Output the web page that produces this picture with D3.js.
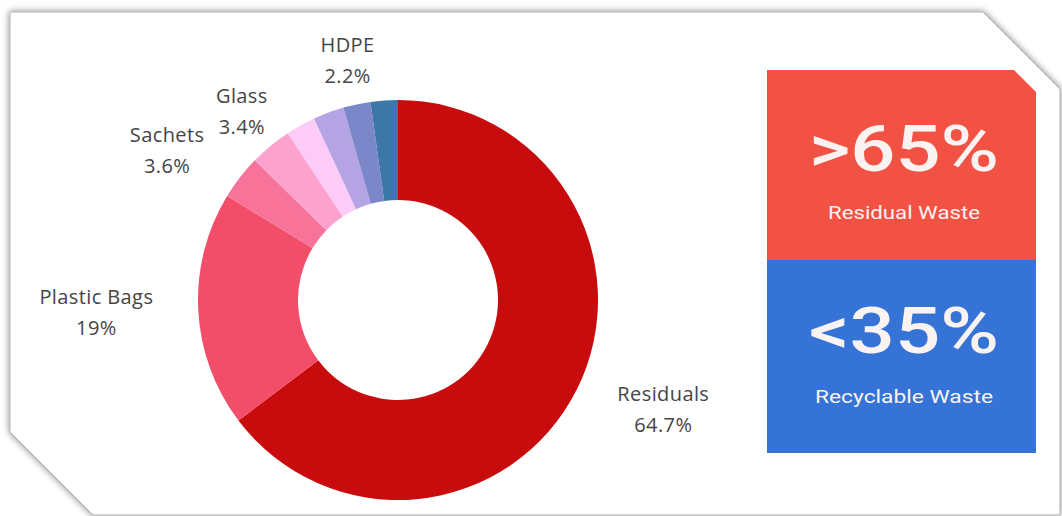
<!DOCTYPE html>
<html>
<head>
<meta charset="utf-8">
<script src="https://cdn.jsdelivr.net/npm/d3@7"></script>
<style>
  html, body { margin: 0; padding: 0; background: #ffffff; }
  svg { display: block; }
</style>
</head>
<body>
<svg id="chart" width="1062" height="516"></svg>
<script>
// ---- data ----
const categories = ["Residuals", "Plastic Bags", "Sachets", "Glass", "Other A", "Other B", "HDPE", "Other C"];
const values = [64.7, 19, 3.6, 3.4, 2.4, 2.5, 2.2, 2.2];
const labelledCategories = ["Residuals", "Plastic Bags", "Sachets", "Glass", "HDPE"];
const sliceColors = ["#c80c0e", "#f24d69", "#f7739a", "#fca2cc", "#fdcbf8", "#b5a4e4", "#7c87c9", "#3c77a8"];
const summaryValues = [">65%", "<35%"];
const summaryLabels = ["Residual Waste", "Recyclable Waste"];
const summaryColors = ["#f15243", "#3574d6"];

// ---- layout ----
const W = 1062, H = 516;
const cx = 398, cy = 300, rOuter = 200, rInner = 100, rLabel = 245;
const svg = d3.select("#chart");

// card with chamfered corners and soft shadow
const defs = svg.append("defs");
const f = defs.append("filter").attr("id", "shadow").attr("x", "-10%").attr("y", "-10%").attr("width", "120%").attr("height", "120%");
f.append("feDropShadow").attr("dx", 0).attr("dy", 0).attr("stdDeviation", 3.5)
  .attr("flood-color", "#000").attr("flood-opacity", 0.5);

const card = d3.path();
card.moveTo(10, 12);
card.lineTo(983, 12);
card.lineTo(1060, 89);
card.lineTo(1060, 515);
card.lineTo(93, 515);
card.lineTo(10, 432);
card.closePath();
svg.append("path").attr("d", card.toString())
  .attr("fill", "#ffffff").attr("stroke", "#b0b0b0").attr("stroke-width", 1)
  .attr("filter", "url(#shadow)");

// ---- donut ----
const data = categories.map((c, i) => ({ name: c, value: values[i], color: sliceColors[i] }));
const pie = d3.pie().sort(null).value(d => d.value).startAngle(0).endAngle(2 * Math.PI);
const arcs = pie(data);
const arc = d3.arc().innerRadius(rInner).outerRadius(rOuter);

const g = svg.append("g").attr("transform", `translate(${cx},${cy})`);
g.selectAll("path.slice").data(arcs).join("path")
  .attr("class", "slice")
  .attr("d", arc)
  .attr("fill", d => d.data.color);

// ---- slice labels ----
const fmt = v => `${v}%`;
const labelFont = "'Open Sans', 'Noto Sans', sans-serif";
arcs.filter(d => labelledCategories.includes(d.data.name)).forEach(d => {
  const a = (d.startAngle + d.endAngle) / 2;
  const px = rLabel * Math.sin(a), py = -rLabel * Math.cos(a);
  const lg = g.append("g");
  const t1 = lg.append("text").text(d.data.name);
  const t2 = lg.append("text").text(fmt(d.data.value));
  lg.selectAll("text")
    .attr("font-family", labelFont).attr("font-size", 20)
    .attr("letter-spacing", 0.4)
    .attr("fill", "#454545").attr("text-anchor", "middle");
  const w = Math.max(t1.node().getComputedTextLength(), t2.node().getComputedTextLength());
  const s = Math.sin(a);
  let x = px;
  if (s > 0.7) x = px + w / 2;
  else if (s < -0.7) x = px - w / 2;
  t1.attr("x", x).attr("y", py - 15).attr("dy", "0.35em");
  t2.attr("x", x).attr("y", py + 16).attr("dy", "0.35em");
});

// ---- summary boxes ----
const boxX = 767, boxW = 269, boxTop = 70, boxMid = 260, boxBot = 453, cut = 22;
summaryValues.forEach((v, i) => {
  const yy = i === 0 ? boxTop : boxMid;
  const h = i === 0 ? boxMid - boxTop : boxBot - boxMid;
  const p = d3.path();
  p.moveTo(boxX, yy);
  if (i === 0) {
    p.lineTo(boxX + boxW - cut, yy);
    p.lineTo(boxX + boxW, yy + cut);
  } else {
    p.lineTo(boxX + boxW, yy);
  }
  p.lineTo(boxX + boxW, yy + h);
  p.lineTo(boxX, yy + h);
  p.closePath();
  svg.append("path").attr("d", p.toString()).attr("fill", summaryColors[i]);

  const centerX = 904;
  svg.append("text")
    .attr("x", centerX).attr("y", yy + (i === 0 ? 101 : 93))
    .attr("text-anchor", "middle")
    .attr("font-family", "Roboto, 'Noto Sans', sans-serif")
    .attr("font-weight", 500)
    .attr("font-size", 64)
    .attr("fill", "#fbf3f1")
    .attr("textLength", 190).attr("lengthAdjust", "spacingAndGlyphs")
    .text(v);
  svg.append("text")
    .attr("x", centerX).attr("y", yy + (i === 0 ? 149 : 143))
    .attr("text-anchor", "middle")
    .attr("font-family", "Roboto, 'Noto Sans', sans-serif")
    .attr("font-size", 18.5)
    .attr("fill", "#fbf3f1")
    .attr("textLength", i === 0 ? 152 : 178).attr("lengthAdjust", "spacingAndGlyphs")
    .text(summaryLabels[i]);
});
</script>
</body>
</html>
